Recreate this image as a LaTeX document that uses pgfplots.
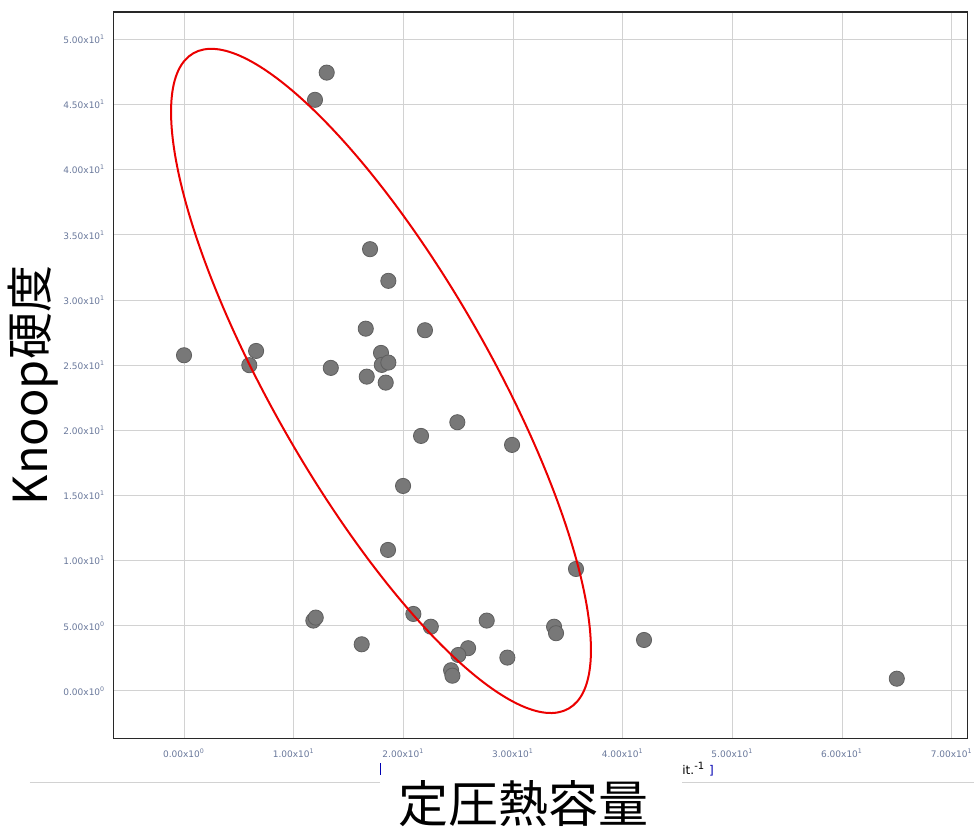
\documentclass[border=0pt]{standalone}
\usepackage{pgfplots}
\pgfplotsset{compat=1.18}
\usepackage{fontspec}
\setmainfont{DejaVu Sans}
\newfontfamily\cjk{Noto Sans CJK JP}
\definecolor{tickc}{RGB}{105,120,155}
\definecolor{gridc}{RGB}{210,210,210}
\definecolor{ptfill}{RGB}{120,120,120}
\definecolor{ptdraw}{RGB}{95,95,95}
\definecolor{framec}{RGB}{40,40,40}
\definecolor{ellc}{RGB}{235,0,0}
\begin{document}
\begin{tikzpicture}
\useasboundingbox (-56.65pt,-44.25pt) rectangle (430.35pt,369.25pt);
\begin{axis}[
  at={(0,0)}, anchor=south west,
  scale only axis, width=427pt, height=363.25pt,
  xmin=-6.45, xmax=71.42, ymin=-3.65, ymax=52.1,
  xtick={0,10,20,30,40,50,60,70},
  ytick={0,5,10,15,20,25,30,35,40,45,50},
  xticklabels={0.00x10\textsuperscript{0},1.00x10\textsuperscript{1},2.00x10\textsuperscript{1},3.00x10\textsuperscript{1},4.00x10\textsuperscript{1},5.00x10\textsuperscript{1},6.00x10\textsuperscript{1},7.00x10\textsuperscript{1}},
  yticklabels={0.00x10\textsuperscript{0},5.00x10\textsuperscript{0},1.00x10\textsuperscript{1},1.50x10\textsuperscript{1},2.00x10\textsuperscript{1},2.50x10\textsuperscript{1},3.00x10\textsuperscript{1},3.50x10\textsuperscript{1},4.00x10\textsuperscript{1},4.50x10\textsuperscript{1},5.00x10\textsuperscript{1}},
  grid=major, major grid style={gridc, line width=0.5pt},
  axis line style={framec, line width=0.75pt},
  tick style={draw=none},
  ticklabel style={font=\fontsize{4.5}{5}\selectfont, text=tickc},
  xticklabel style={yshift=-1.5pt},
  yticklabel style={xshift=-0.5pt},
]
\addplot[only marks, mark=*, mark size=3.8pt, mark options={fill=ptfill, draw=ptdraw, line width=0.4pt}] table {
x y
0 25.76
5.95 25.0
6.57 26.09
11.94 45.36
13.01 47.45
13.38 24.79
16.96 33.9
18.63 31.47
16.57 27.8
21.97 27.68
17.96 25.94
18.03 25.02
18.63 25.2
16.66 24.12
18.39 23.66
24.92 20.62
21.61 19.57
29.91 18.88
19.97 15.73
18.6 10.82
35.74 9.36
11.79 5.4
12.01 5.63
16.2 3.58
20.91 5.91
22.5 4.93
27.6 5.4
33.74 4.93
33.92 4.43
25.9 3.28
25.01 2.76
29.48 2.56
24.35 1.59
24.47 1.17
41.94 3.91
64.99 0.94
};
\coordinate (c) at (axis cs:17.96,23.79);
\end{axis}
\draw[ellc, line width=1pt, rotate around={-60.2:(c)}] (c) ellipse [x radius=188.8pt, y radius=54.2pt];
\draw[gridc, line width=0.5pt] (-41.65pt,-21.75pt) -- (133.35pt,-21.75pt);
\draw[gridc, line width=0.5pt] (284.35pt,-21.75pt) -- (430.35pt,-21.75pt);
\draw[blue!70!black, line width=0.5pt] (133.35pt,-12.25pt) -- (133.35pt,-18.25pt);
\node[anchor=west, inner sep=0pt, font=\fontsize{6}{7}\selectfont] at (284.35pt,-15.5pt) {it.\textsuperscript{-1} {\color{blue!70!black}]}};
\node[rotate=90, inner sep=0pt, font=\cjk\fontsize{23.5}{26}\selectfont] at (-40pt,176.5pt) {Knoop硬度};
\node[inner sep=0pt, font=\cjk\fontsize{25}{28}\selectfont] at (204.85pt,-32.75pt) {定圧熱容量};
\end{tikzpicture}
\end{document}
